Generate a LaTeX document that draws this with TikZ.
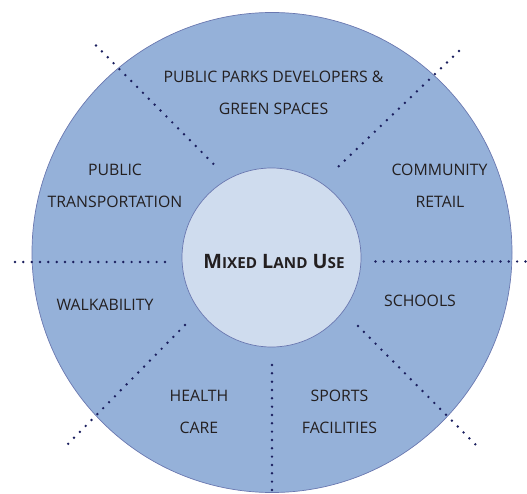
\documentclass[tikz,border=0pt]{standalone}
\usepackage{fontspec}
\setmainfont{Open Sans}
\definecolor{outerfill}{HTML}{95B1D9}
\definecolor{innerfill}{HTML}{CFDCEE}
\definecolor{rimline}{HTML}{6A78B0}
\definecolor{dotcol}{HTML}{1B1F5E}
\definecolor{txt}{HTML}{231F20}
\begin{document}
\begin{tikzpicture}[x=1pt,y=-1pt,
  dotline/.style={draw=dotcol,line width=2.7pt,line cap=round,dash pattern=on 0pt off 8.33pt},
  lbl/.style={text=txt,font=\fontsize{15.8}{18}\selectfont,align=center,inner sep=0pt}]
\useasboundingbox (0,0) rectangle (527,494);
\node[circle,draw=rimline,line width=0.7pt,fill=outerfill,minimum size=480pt,inner sep=0pt] (outer) at (272,252.5) {};
% dotted dividers
\coordinate (h1a) at (15,262);   \coordinate (h1b) at (167,262);
\coordinate (h2a) at (375.5,261.5); \coordinate (h2b) at (527,261.5);
\coordinate (v1a) at (272,365);  \coordinate (v1b) at (272,495);
\coordinate (d1a) at (96,45.5);  \coordinate (d1b) at (216,166.5);
\coordinate (d2a) at (459,51);   \coordinate (d2b) at (338,167);
\coordinate (d3a) at (185,325);  \coordinate (d3b) at (64,448);
\coordinate (d4a) at (358,326);  \coordinate (d4b) at (479,448);
\draw[dotline] (h1a) -- (h1b);
\draw[dotline] (h2a) -- (h2b);
\draw[dotline] (v1a) -- (v1b);
\draw[dotline] (d1a) -- (d1b);
\draw[dotline] (d2a) -- (d2b);
\draw[dotline] (d3a) -- (d3b);
\draw[dotline] (d4a) -- (d4b);
\node[circle,draw=rimline,line width=0.7pt,fill=innerfill,minimum size=179pt,inner sep=0pt] (inner) at (271.5,257.5) {};
\node[text=txt,inner sep=0pt] (center) at (274,262) {\bfseries\fontsize{19.8}{22}\selectfont M{\fontsize{15.2}{18}\selectfont IXED} L{\fontsize{15.2}{18}\selectfont AND} U{\fontsize{15.2}{18}\selectfont SE}};
\node[lbl] (parks1) at (273.5,76.5) {PUBLIC PARKS DEVELOPERS \&};
\node[lbl] (parks2) at (273.5,108.5) {GREEN SPACES};
\node[lbl] (pt1) at (115,170) {PUBLIC};
\node[lbl] (pt2) at (115,202) {TRANSPORTATION};
\node[lbl] (cr1) at (439.5,170) {COMMUNITY};
\node[lbl] (cr2) at (440,202) {RETAIL};
\node[lbl] (walk) at (105,305) {WALKABILITY};
\node[lbl] (school) at (420,301) {SCHOOLS};
\node[lbl] (hc1) at (199,396) {HEALTH};
\node[lbl] (hc2) at (199,427.5) {CARE};
\node[lbl] (sf1) at (339.5,396) {SPORTS};
\node[lbl] (sf2) at (339.5,427.5) {FACILITIES};
\end{tikzpicture}
\end{document}
